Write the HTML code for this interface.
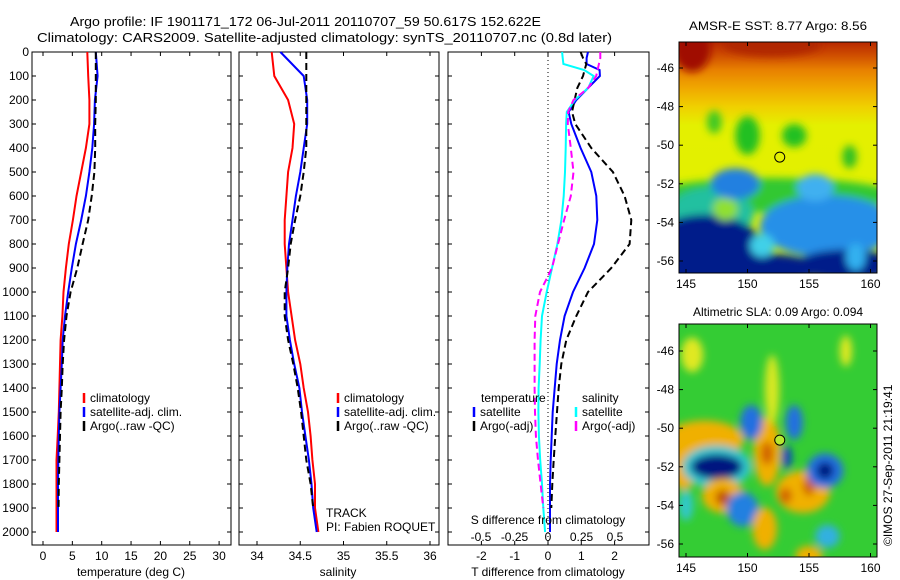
<!DOCTYPE html>
<html><head><meta charset="utf-8"><style>
body{margin:0;background:#fff;}
svg{display:block;font-family:"Liberation Sans",sans-serif;}
text{font-size:12px;fill:#000;}
</style></head><body>
<svg id="fig" width="900" height="580" viewBox="0 0 900 580" xmlns="http://www.w3.org/2000/svg">
<defs>
<filter id="bl" x="-30%" y="-30%" width="160%" height="160%"><feGaussianBlur stdDeviation="4"/></filter>
<clipPath id="c1"><rect x="679" y="42" width="198" height="231"/></clipPath>
<clipPath id="c2"><rect x="679" y="324" width="198" height="233"/></clipPath>
<linearGradient id="sstg" x1="0" y1="0" x2="0" y2="1">
<stop offset="0" stop-color="#b82800"/><stop offset="0.06" stop-color="#d05000"/><stop offset="0.12" stop-color="#e88000"/><stop offset="0.2" stop-color="#f0a800"/><stop offset="0.28" stop-color="#f0d000"/><stop offset="0.36" stop-color="#e4f000"/><stop offset="1" stop-color="#e0f000"/>
</linearGradient>
</defs>
<text x="70" y="26" textLength="471" lengthAdjust="spacingAndGlyphs" style="font-size:13px">Argo profile: IF 1901171_172 06-Jul-2011 20110707_59 50.617S 152.622E</text>
<text x="37" y="42" textLength="575" lengthAdjust="spacingAndGlyphs" style="font-size:13px">Climatology: CARS2009. Satellite-adjusted climatology: synTS_20110707.nc (0.8d later)</text>
<g id="g1"></g><g id="g2"></g><g id="g3"></g>
<g id="maps"></g>
<text x="778" y="30" text-anchor="middle" textLength="178" lengthAdjust="spacingAndGlyphs">AMSR-E SST: 8.77 Argo: 8.56</text>
<text x="778" y="316" text-anchor="middle">Altimetric SLA: 0.09 Argo: 0.094</text>
<text transform="translate(892,546) rotate(-90)">©IMOS 27-Sep-2011 21:19:41</text>
</svg>
<script>
const depths=[0,100,200,300,400,500,600,700,800,900,1000,1100,1200,1300,1400,1500,1600,1700,1800,1900,2000];
const tempClim=[7.55,7.7,7.9,7.9,7.3,6.5,5.7,5.1,4.4,3.9,3.5,3.3,3.0,2.9,2.8,2.7,2.5,2.3,2.3,2.3,2.3];
const tempSat=[9.0,9.3,8.85,8.7,8.4,7.9,7.3,6.5,5.6,4.9,4.3,3.75,3.35,3.2,3.0,2.8,2.7,2.6,2.55,2.55,2.55];
const tempArgo=[9.0,9.0,9.0,8.9,8.9,8.75,8.3,7.7,6.75,5.85,4.7,4.0,3.6,3.35,3.2,3.0,2.9,2.8,2.7,2.65];
const salClim=[34.17,34.2,34.36,34.43,34.41,34.36,34.34,34.32,34.32,34.34,34.36,34.40,34.44,34.5,34.54,34.59,34.62,34.64,34.67,34.67,34.71];
const salSat=[34.27,34.54,34.58,34.58,34.54,34.5,34.45,34.41,34.37,34.35,34.34,34.34,34.38,34.43,34.49,34.52,34.56,34.6,34.63,34.65,34.69];
const salArgo=[34.57,34.57,34.57,34.57,34.57,34.54,34.5,34.44,34.39,34.36,34.32,34.32,34.36,34.42,34.47,34.51,34.54,34.57,34.62,34.65];
const diffDepths=[0,25,50,75,100,150,200,250,300,400,500,600,700,800,900,1000,1100,1200,1300,1400,1500,1600,1700,1800,1900,2000];
const tDiffSat=[1.2,1.16,1.16,1.55,1.56,1.2,0.85,0.62,0.7,0.98,1.3,1.45,1.48,1.38,1.1,0.75,0.5,0.36,0.26,0.2,0.14,0.11,0.08,0.06,0.06,0.06];
const tDiffArgo=[0.98,1.05,1.15,1.1,1.05,0.88,0.8,0.72,0.82,1.3,1.95,2.3,2.5,2.45,1.9,1.2,0.85,0.55,0.4,0.32,0.27,0.22,0.17,0.13,0.1];
const sDiffSat=[0.105,0.11,0.115,0.27,0.34,0.3,0.2,0.14,0.135,0.132,0.127,0.117,0.1,0.07,0.03,-0.01,-0.045,-0.055,-0.062,-0.07,-0.072,-0.068,-0.058,-0.045,-0.035,-0.022];
const sDiffArgo=[0.39,0.39,0.38,0.37,0.36,0.3,0.19,0.15,0.148,0.17,0.19,0.17,0.12,0.075,0.03,-0.06,-0.095,-0.1,-0.1,-0.1,-0.097,-0.09,-0.075,-0.055,-0.035];
const depthTicks=[0,100,200,300,400,500,600,700,800,900,1000,1100,1200,1300,1400,1500,1600,1700,1800,1900,2000];
const tempTicks=[0,5,10,15,20,25,30];
const salTicks=[34,34.5,35,35.5,36];
const tdTicks=[-2,-1,0,1,2];
const sdTicks=[-0.5,-0.25,0,0.25,0.5];
const sdTickLabels=["-0.5","-0.25","0","0.25","0.5"];
const argoLon=152.622, argoLat=-50.617;

const NS='http://www.w3.org/2000/svg';
function mk(tag,at,parent){const e=document.createElementNS(NS,tag);for(const k in at)e.setAttribute(k,at[k]);parent.appendChild(e);return e;}
const Y0=52,Y1=545;
const yD=d=>Y0+d*0.24;
function txt(p,x,y,s,anchor){const t=mk('text',{x:x,y:y,'text-anchor':anchor||'start'},p);t.textContent=s;return t;}

function panel(g,x0,x1,xs,ticks,labels,leftLabels,name){
  const fr=mk('rect',{x:x0,y:Y0,width:x1-x0,height:Y1-Y0,fill:'none',stroke:'#000','stroke-width':1},g);
  
  
  depthTicks.forEach(d=>{
    mk('line',{x1:x0,y1:yD(d),x2:x0+4,y2:yD(d),stroke:'#000'},g);
    mk('line',{x1:x1,y1:yD(d),x2:x1-4,y2:yD(d),stroke:'#000'},g);
    if(leftLabels){const t=txt(g,x0-3,yD(d)+4,String(d),'end');
      
      }
  });
  ticks.forEach((v,i)=>{const x=xs(v);
    mk('line',{x1:x,y1:Y1,x2:x,y2:Y1-4,stroke:'#000'},g);
    mk('line',{x1:x,y1:Y0,x2:x,y2:Y0+4,stroke:'#000'},g);
    const t=txt(g,x,Y1+15,labels[i],'middle');
    
    
  });
}
function series(g,xs,dArr,vArr,color,dash,w,name){
  const pts=vArr.map((v,i)=>xs(v).toFixed(1)+','+yD(dArr[i]).toFixed(1)).join(' ');
  const p=mk('polyline',{points:pts,fill:'none',stroke:color,'stroke-width':w||2,'stroke-dasharray':dash||'none'},g);
  
  
}
function legend(g,x,y,items){
  items.forEach((it,i)=>{
    mk('line',{x1:x,y1:y+i*14-9,x2:x,y2:y+i*14+1,stroke:it[1],'stroke-width':2.5},g);
    const t=txt(g,x+6,y+i*14,it[0]);
    
    
  });
}
// Panel 1
const g1=document.getElementById('g1');
const xT=t=>43+5.87*t;
panel(g1,32,231,xT,tempTicks,tempTicks.map(String),true,'temperature');
series(g1,xT,depths,tempClim,'#f00','',2,'temp-climatology-line');
series(g1,xT,depths,tempSat,'#00f','',2,'temp-satellite-line');
series(g1,xT,depths.slice(0,tempArgo.length),tempArgo,'#000','7,4',2,'temp-argo-line');
legend(g1,84,402,[['climatology','#f00'],['satellite-adj. clim.','#00f'],['Argo(..raw -QC)','#000']]);
txt(g1,131,576,'temperature (deg C)','middle');
// Panel 2
const g2=document.getElementById('g2');
const xS=s=>257+86.5*(s-34);
panel(g2,239,439,xS,salTicks,salTicks.map(String),false,'salinity');
series(g2,xS,depths,salClim,'#f00','',2,'sal-climatology-line');
series(g2,xS,depths,salSat,'#00f','',2,'sal-satellite-line');
series(g2,xS,depths.slice(0,salArgo.length),salArgo,'#000','7,4',2,'sal-argo-line');
legend(g2,338,402,[['climatology','#f00'],['satellite-adj. clim.','#00f'],['Argo(..raw -QC)','#000']]);
txt(g2,326,517,'TRACK');
txt(g2,326,531,'PI: Fabien ROQUET');
txt(g2,338,576,'salinity','middle');
// Panel 3
const g3=document.getElementById('g3');
const xTD=v=>548+33.3*v, xSD=v=>548+134*v;
panel(g3,448,649,xTD,tdTicks,tdTicks.map(String),false,'t-difference');
sdTicks.forEach((v,i)=>{const t=txt(g3,xSD(v),541,sdTickLabels[i],'middle');
  
  });
mk('line',{x1:548,y1:Y0,x2:548,y2:Y1,stroke:'#000','stroke-dasharray':'1,3'},g3);
series(g3,xTD,diffDepths,tDiffSat,'#00f','',2,'tdiff-satellite-line');
series(g3,xTD,diffDepths.slice(0,tDiffArgo.length),tDiffArgo,'#000','7,4',2,'tdiff-argo-line');
series(g3,xSD,diffDepths,sDiffSat,'#0ff','',2,'sdiff-satellite-line');
series(g3,xSD,diffDepths.slice(0,sDiffArgo.length),sDiffArgo,'#f0f','7,4',2,'sdiff-argo-line');
txt(g3,481,402,'temperature');
txt(g3,582,402,'salinity');
legend(g3,474,416,[['satellite','#00f'],['Argo(-adj)','#000']]);
legend(g3,576,416,[['satellite','#0ff'],['Argo(-adj)','#f0f']]);
txt(g3,548,524,'S difference from climatology','middle');
txt(g3,548,576,'T difference from climatology','middle');
// Maps
const gm=document.getElementById('maps');
const lonX=l=>686+(l-145)*12.3;
const latY1=l=>68+(-46-l)*19.3;
const latY2=l=>351+(-46-l)*19.3;
const lonTicks=[145,150,155,160], latTicks=[-46,-48,-50,-52,-54,-56];
function blobs(parent,ly,list){
  const bg=mk('g',{filter:'url(#bl)'},parent);
  list.forEach(b=>mk('ellipse',{cx:lonX(b[0]),cy:ly(b[1]),rx:b[2]*12.3,ry:b[3]*19.3,fill:b[4]},bg));
}
// SST map
const m1=mk('g',{'clip-path':'url(#c1)'},gm);


mk('rect',{x:679,y:42,width:198,height:231,fill:'url(#sstg)'},m1);
blobs(m1,latY1,[
 [152,-52.6,10,0.9,'#30c830'],[147,-53.6,3.5,1.4,'#20c0a0'],[156.5,-54.2,5.5,1.6,'#2890e8'],
 [146.5,-55.6,5,2,'#001a8a'],[151,-56.4,5,0.8,'#001a8a'],[158,-56.2,4,0.8,'#001a8a'],
 [151.2,-55.2,1,0.6,'#40d0e8'],[148.2,-53.3,1,0.6,'#90e030'],[158.8,-55.8,0.8,0.7,'#30b0f0'],
 [150,-49.5,1,1,'#20c020'],[153.8,-49.5,1,0.6,'#20c020'],[147.3,-48.8,0.6,0.6,'#40c820'],[158.3,-50.6,0.6,0.6,'#30c020'],
 [145.5,-45,1.5,1.2,'#a01000'],[152,-44.8,4,0.6,'#b02800'],[149,-52,2,0.8,'#2080e0'],[155.5,-52.2,1.5,0.7,'#40b0f0']
]);
mk('circle',{cx:lonX(argoLon),cy:latY1(argoLat),r:5,fill:'none',stroke:'#000'},m1);
// SLA map
const m2=mk('g',{'clip-path':'url(#c2)'},gm);


mk('rect',{x:679,y:324,width:198,height:233,fill:'#34cc34'},m2);
blobs(m2,latY2,[
 [146.5,-50.6,3.2,1.0,'#f0b000'],[144.8,-51.8,1.2,1.4,'#f0b000'],[147.5,-52,2.8,1.1,'#30c8d0'],[147.5,-52,2.1,0.65,'#001880'],
 [148,-53.5,1.7,0.9,'#f0b000'],[148,-53.6,0.6,0.4,'#c05000'],[151.6,-51.2,1.1,1.8,'#f0b000'],[151.6,-51.3,0.5,0.6,'#d06000'],
 [154.5,-53.3,2.2,1.1,'#f0b000'],[153.1,-53.5,0.5,0.4,'#d06000'],[155,-53,0.5,0.5,'#d06000'],
 [156.3,-52.2,1.5,0.9,'#2070e0'],[156.3,-52.2,0.7,0.45,'#001880'],[150.3,-49.7,0.9,0.9,'#2070e0'],[153.8,-49.7,0.7,0.9,'#2070e0'],
 [153.2,-51.5,0.4,0.6,'#1040c0'],[149.6,-54.2,1.3,0.9,'#2080e0'],[151.4,-55.2,1,1.1,'#f0b000'],[155,-56.6,1.1,0.5,'#f0b000'],
 [145.5,-46.2,0.9,0.9,'#e0e820'],[152,-48,0.6,1.8,'#d8e820'],[156.5,-55.6,1,0.6,'#30b0e0'],[158,-46,0.5,0.8,'#e0e820'],
 [145,-54,0.6,0.8,'#30c8c8']
]);
mk('circle',{cx:lonX(argoLon),cy:latY2(argoLat),r:5,fill:'#b8e830',stroke:'#000'},m2);
[[42,273,latY1],[324,557,latY2]].forEach((m,mi)=>{
  const fr=mk('rect',{x:679,y:m[0],width:198,height:m[1]-m[0],fill:'none',stroke:'#000'},gm);
  
  
  lonTicks.forEach(l=>{const x=lonX(l);
    mk('line',{x1:x,y1:m[0],x2:x,y2:m[0]+4,stroke:'#000'},gm);
    mk('line',{x1:x,y1:m[1],x2:x,y2:m[1]-4,stroke:'#000'},gm);
    const t=txt(gm,x,m[1]+15,String(l),'middle');
    
    });
  latTicks.forEach(l=>{const y=m[2](l);
    mk('line',{x1:679,y1:y,x2:683,y2:y,stroke:'#000'},gm);
    mk('line',{x1:877,y1:y,x2:873,y2:y,stroke:'#000'},gm);
    const t=txt(gm,674,y+4,String(l),'end');
    
    });
});
</script>
</body></html>
